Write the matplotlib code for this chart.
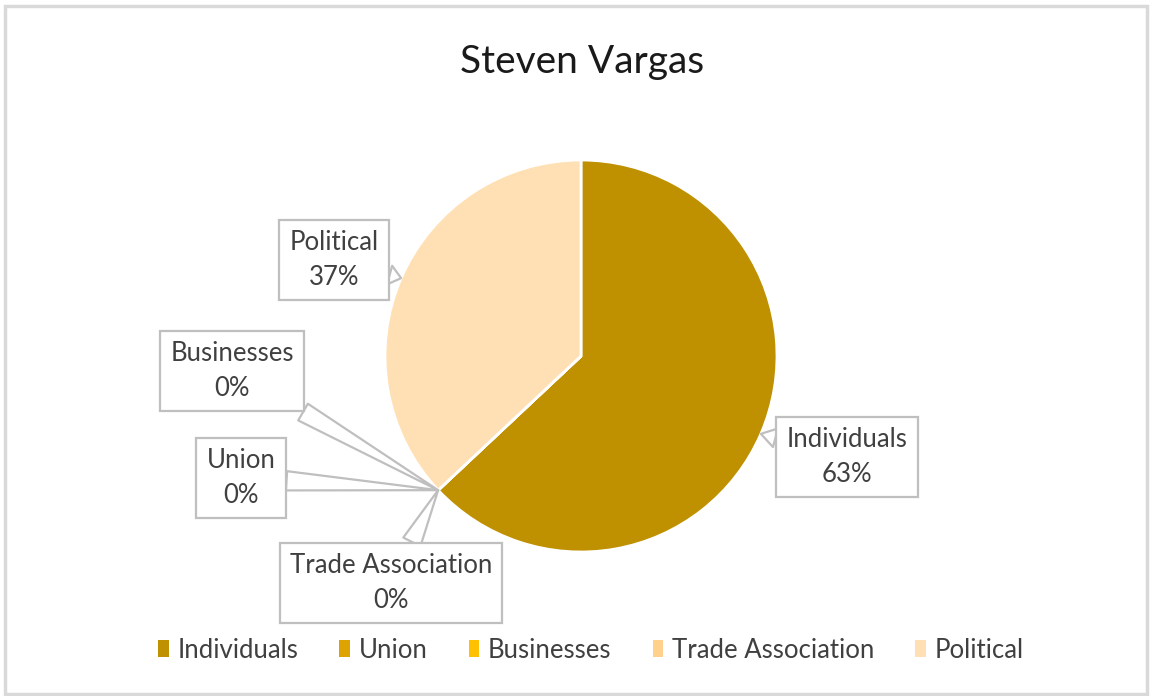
import numpy as np
import matplotlib.pyplot as plt
from matplotlib.patches import Rectangle

plt.rcParams['font.family'] = ['Lato', 'DejaVu Sans']

W, H = 1151, 696

categories = ['Individuals', 'Union', 'Businesses', 'Trade Association', 'Political']
values = [63, 0, 0, 0, 37]
colors = ['#BF9000', '#DDA300', '#FFC000', '#FFD18C', '#FFE0B5']
title = 'Steven Vargas'

# label box centres in pixel coords (x, y from top)
label_pos = {
    'Individuals': (847, 457),
    'Union': (241, 478),
    'Businesses': (232, 371),
    'Trade Association': (391, 583),
    'Political': (334, 260),
}

pie_center = (581, H - 356)
pie_radius = 196

fig = plt.figure(figsize=(W / 100, H / 100), dpi=100)
ax = fig.add_axes([0, 0, 1, 1])

wedges, _ = ax.pie(values, colors=colors, startangle=90, counterclock=False,
                   center=pie_center, radius=pie_radius,
                   wedgeprops=dict(edgecolor='white', linewidth=2))
ax.set_xlim(0, W)
ax.set_ylim(0, H)
ax.set_aspect('equal')
ax.axis('off')

total = sum(values)
for w, name, v in zip(wedges, categories, values):
    mid = np.radians((w.theta1 + w.theta2) / 2)
    tip = (pie_center[0] + pie_radius * np.cos(mid),
           pie_center[1] + pie_radius * np.sin(mid))
    lx, ly = label_pos[name]
    ax.annotate(f'{name}\n{round(v / total * 100)}%', xy=tip, xytext=(lx, H - ly),
                ha='center', va='center', multialignment='center',
                fontsize=18.5, color='#404040', linespacing=1.5,
                bbox=dict(boxstyle='square,pad=0.4', fc='white', ec='#BFBFBF', lw=1.6),
                arrowprops=dict(arrowstyle='wedge,tail_width=0.75,shrink_factor=0.5',
                                fc='white', ec='#BFBFBF', lw=1.6,
                                shrinkA=0, shrinkB=0))

fig.text(582 / W, 1 - 62 / H, title, ha='center', va='center', fontsize=28, color='#1a1a1a')

handles = [Rectangle((0, 0), 1, 1, fc=c, ec='none') for c in colors]
fig.legend(handles, categories, loc='center', bbox_to_anchor=(591 / W, 1 - 650 / H),
           ncol=5, frameon=False, fontsize=18.5, handlelength=0.4, handleheight=0.6,
           handletextpad=0.35, columnspacing=1.6, labelcolor='#404040')

fig.add_artist(Rectangle((5 / W, 2 / H), 1142 / W, 688 / H, transform=fig.transFigure,
                         fill=False, ec='#D9D9D9', lw=2.5))

fig.savefig('out.png', dpi=100)
